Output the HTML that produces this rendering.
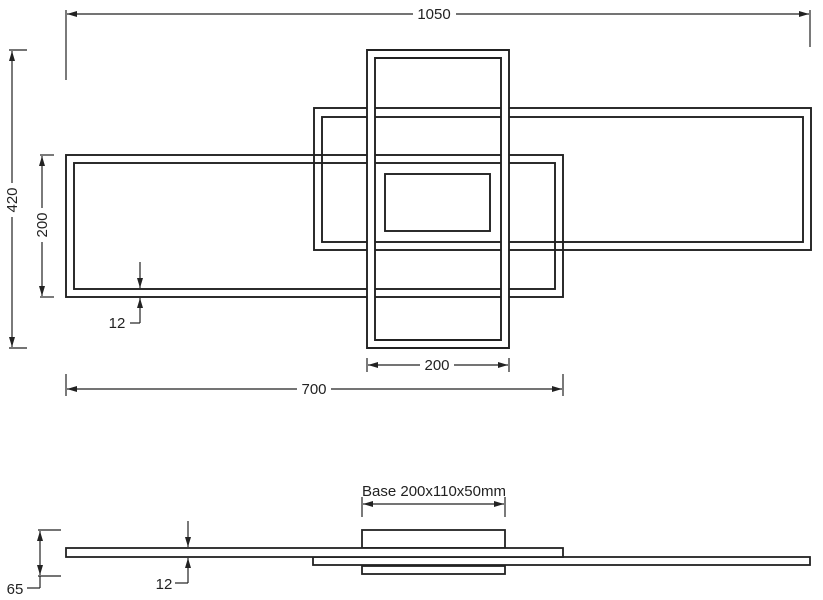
<!DOCTYPE html>
<html><head><meta charset="utf-8"><style>
html,body{margin:0;padding:0;background:#fff;}
svg{display:block;}
text{font-family:"Liberation Sans",sans-serif;fill:#222;}
</style></head><body>
<svg width="823" height="600" viewBox="0 0 823 600" xmlns="http://www.w3.org/2000/svg">
<defs>
<marker id="ar" viewBox="0 0 10 6" refX="10" refY="3" markerWidth="10" markerHeight="6" orient="auto-start-reverse" markerUnits="userSpaceOnUse">
<path d="M0,0 L10,3 L0,6 z" fill="#222"/></marker>
</defs>
<g fill="none" stroke="#222" stroke-width="1.9">
<rect x="66" y="155" width="497" height="142"/>
<rect x="74" y="163" width="481" height="126"/>
<rect x="314" y="108" width="497" height="142"/>
<rect x="322" y="117" width="481" height="125"/>
<path d="M367,50 H509 V348 H367 Z M375,58 V340 H501 V58 Z" fill="#fff" fill-rule="evenodd"/>
<rect x="385" y="174" width="105" height="57"/>
</g>
<g stroke="#222" stroke-width="1.2" fill="none">
<line x1="66" y1="10" x2="66" y2="80"/>
<line x1="810" y1="10" x2="810" y2="47"/>
<line x1="67" y1="14" x2="413" y2="14" marker-start="url(#ar)"/>
<line x1="456" y1="14" x2="809" y2="14" marker-end="url(#ar)"/>
<line x1="9" y1="50" x2="27" y2="50"/>
<line x1="9" y1="348" x2="27" y2="348"/>
<line x1="12" y1="51" x2="12" y2="183" marker-start="url(#ar)"/>
<line x1="12" y1="217" x2="12" y2="347" marker-end="url(#ar)"/>
<line x1="40" y1="155" x2="54" y2="155"/>
<line x1="40" y1="297" x2="54" y2="297"/>
<line x1="42" y1="156" x2="42" y2="208" marker-start="url(#ar)"/>
<line x1="42" y1="242" x2="42" y2="296" marker-end="url(#ar)"/>
<line x1="140" y1="262" x2="140" y2="288" marker-end="url(#ar)"/>
<line x1="140" y1="323" x2="140" y2="298" marker-end="url(#ar)"/>
<line x1="130" y1="323" x2="140" y2="323"/>
<line x1="367" y1="358" x2="367" y2="372"/>
<line x1="509" y1="358" x2="509" y2="372"/>
<line x1="368" y1="365" x2="420" y2="365" marker-start="url(#ar)"/>
<line x1="454" y1="365" x2="508" y2="365" marker-end="url(#ar)"/>
<line x1="66" y1="374" x2="66" y2="396"/>
<line x1="563" y1="374" x2="563" y2="396"/>
<line x1="67" y1="389" x2="297" y2="389" marker-start="url(#ar)"/>
<line x1="331" y1="389" x2="562" y2="389" marker-end="url(#ar)"/>
<line x1="362" y1="497" x2="362" y2="517"/>
<line x1="505" y1="497" x2="505" y2="517"/>
<line x1="363" y1="504" x2="504" y2="504" marker-start="url(#ar)" marker-end="url(#ar)"/>
<line x1="38" y1="530" x2="61" y2="530"/>
<line x1="38" y1="576" x2="61" y2="576"/>
<line x1="40" y1="531" x2="40" y2="575" marker-start="url(#ar)" marker-end="url(#ar)"/>
<line x1="40" y1="576" x2="40" y2="588"/>
<line x1="27" y1="588" x2="40" y2="588"/>
<line x1="188" y1="521" x2="188" y2="547" marker-end="url(#ar)"/>
<line x1="188" y1="583" x2="188" y2="558" marker-end="url(#ar)"/>
<line x1="175" y1="583" x2="188" y2="583"/>
</g>
<g fill="#fff" stroke="#222" stroke-width="1.8">
<rect x="362" y="530" width="143" height="18"/>
<rect x="362" y="566" width="143" height="8"/>
<rect x="313" y="557" width="497" height="8"/>
<rect x="66" y="548" width="497" height="9"/>
</g>
<g font-size="15">
<text x="434" y="19" text-anchor="middle">1050</text>
<text x="17" y="200" text-anchor="middle" transform="rotate(-90 17 200)">420</text>
<text x="47" y="225" text-anchor="middle" transform="rotate(-90 47 225)">200</text>
<text x="117" y="328" text-anchor="middle">12</text>
<text x="437" y="370" text-anchor="middle">200</text>
<text x="314" y="394" text-anchor="middle">700</text>
<text x="434" y="496" text-anchor="middle">Base 200x110x50mm</text>
<text x="15" y="594" text-anchor="middle">65</text>
<text x="164" y="589" text-anchor="middle">12</text>
</g>
</svg>
</body></html>
